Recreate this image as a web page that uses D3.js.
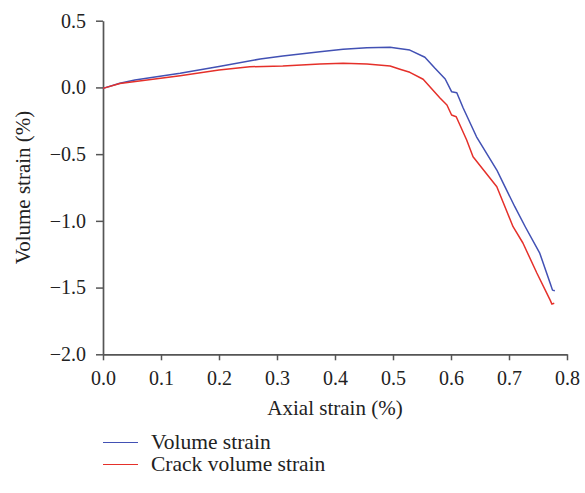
<!DOCTYPE html>
<html>
<head>
<meta charset="utf-8">
<script src="https://cdn.jsdelivr.net/npm/d3@7"></script>
<style>
  html, body { margin: 0; padding: 0; background: #fff; }
  svg { display: block; }
  text { font-family: "Liberation Serif", "DejaVu Serif", serif; fill: #222; }
</style>
</head>
<body>
<svg id="chart" width="585" height="493"></svg>
<script>
// Axial strain (%) against volume strain (%)
const volumeAxial = [0, 0.029, 0.055, 0.133, 0.2, 0.271, 0.31, 0.374, 0.414, 0.455, 0.495, 0.507, 0.529, 0.555, 0.572, 0.59, 0.601, 0.61, 0.621, 0.644, 0.679, 0.69, 0.71, 0.728, 0.753, 0.771, 0.775, 0.779];
const volumeStrain = [-0.007, 0.031, 0.055, 0.106, 0.157, 0.213, 0.235, 0.268, 0.286, 0.298, 0.301, 0.293, 0.28, 0.226, 0.145, 0.063, -0.032, -0.04, -0.154, -0.37, -0.619, -0.717, -0.894, -1.044, -1.242, -1.467, -1.519, -1.524];

// Axial strain (%) against crack volume strain (%)
const crackAxial = [0, 0.029, 0.133, 0.2, 0.253, 0.31, 0.374, 0.414, 0.455, 0.495, 0.512, 0.529, 0.552, 0.581, 0.593, 0.601, 0.609, 0.627, 0.638, 0.679, 0.707, 0.724, 0.748, 0.771, 0.774, 0.778];
const crackStrain = [-0.007, 0.029, 0.088, 0.13, 0.155, 0.16, 0.175, 0.181, 0.175, 0.16, 0.136, 0.113, 0.061, -0.079, -0.132, -0.207, -0.22, -0.394, -0.519, -0.744, -1.044, -1.166, -1.391, -1.594, -1.624, -1.618];

const xTicks = [0, 0.1, 0.2, 0.3, 0.4, 0.5, 0.6, 0.7, 0.8];
const yTicks = [0.5, 0, -0.5, -1, -1.5, -2];
const seriesNames = ["Volume strain", "Crack volume strain"];
const seriesColors = ["#4251b4", "#e5302a"];

const svg = d3.select("#chart");
const plotLeft = 103, plotRight = 567, plotTop = 20.7, plotBottom = 354.3;

const x = d3.scaleLinear().domain([0, 0.8]).range([plotLeft, plotRight]);
const y = d3.scaleLinear().domain([-2, 0.5]).range([plotBottom, plotTop]);

const axisColor = "#555";
const serif = '"Liberation Serif", "DejaVu Serif", serif';

// x axis
const gx = svg.append("g")
  .attr("transform", `translate(0,${plotBottom})`)
  .call(d3.axisBottom(x).tickValues(xTicks).tickFormat(d3.format(".1f"))
    .tickSizeInner(6).tickSizeOuter(0).tickPadding(11));

// y axis
const gy = svg.append("g")
  .attr("transform", `translate(${plotLeft},0)`)
  .call(d3.axisLeft(y).tickValues(yTicks)
    .tickFormat(d => d3.format(".1f")(d).replace("-", "\u2212"))
    .tickSizeInner(7).tickSizeOuter(0).tickPadding(10));

[gx, gy].forEach(g => {
  g.attr("font-family", null);
  g.select(".domain").attr("stroke", axisColor).attr("stroke-width", 1.7);
  g.selectAll(".tick line").attr("stroke", axisColor).attr("stroke-width", 1.5);
  g.selectAll(".tick text")
    .style("font-family", serif)
    .style("font-size", "20px")
    .style("fill", "#222");
});

// axis titles
svg.append("text")
  .attr("x", (plotLeft + plotRight) / 2)
  .attr("y", 415)
  .attr("text-anchor", "middle")
  .style("font-size", "21px")
  .text("Axial strain (%)");

svg.append("text")
  .attr("transform", `translate(30,${(plotTop + plotBottom) / 2}) rotate(-90)`)
  .attr("text-anchor", "middle")
  .style("font-size", "21px")
  .text("Volume strain (%)");

// curves
const series = [
  { xs: volumeAxial, ys: volumeStrain },
  { xs: crackAxial, ys: crackStrain }
];

const line = d3.line().x(d => x(d[0])).y(d => y(d[1]));

series.forEach((s, i) => {
  const pts = s.xs.map((v, j) => [v, s.ys[j]]);
  svg.append("path")
    .datum(pts)
    .attr("fill", "none")
    .attr("stroke", seriesColors[i])
    .attr("stroke-width", 1.5)
    .attr("stroke-linejoin", "round")
    .attr("d", line);
});

// legend
const legend = svg.append("g");
seriesNames.forEach((name, i) => {
  const ly = 442.5 + i * 22;
  legend.append("line")
    .attr("x1", 103).attr("x2", 138)
    .attr("y1", ly).attr("y2", ly)
    .attr("stroke", seriesColors[i])
    .attr("stroke-width", 1.2);
  legend.append("text")
    .attr("x", 151)
    .attr("y", ly + 6.5)
    .style("font-size", "21.5px")
    .text(name);
});
</script>
</body>
</html>
